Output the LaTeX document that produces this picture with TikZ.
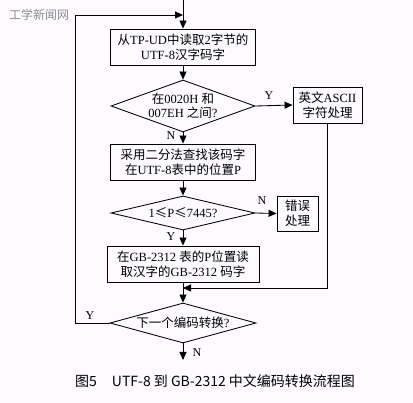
\documentclass[tikz,border=0pt]{standalone}
\usepackage{fontspec}
\setmainfont{Liberation Serif}
\newfontfamily\cjk{Noto Sans CJK SC}
\usetikzlibrary{shapes.geometric,arrows.meta}
\newcommand\zhc[1]{{\cjk #1}}
\definecolor{bg}{RGB}{253,251,255}
\begin{document}
\begin{tikzpicture}[x=1pt,y=-1pt,
  every node/.style={inner sep=0pt},
  txt/.style={font=\fontsize{12.5}{15}\selectfont, align=center},
  box/.style={draw, line width=0.85pt, txt},
  dia/.style={draw, line width=0.85pt, diamond, inner sep=0pt},
  lbl/.style={font=\fontsize{12}{14}\selectfont},
  arr/.style={line width=0.85pt, -{Triangle[length=8pt,width=7pt]}},
  ln/.style={line width=0.85pt}]
\useasboundingbox[fill=bg] (0,0) rectangle (413,403);
\node[font=\cjk\fontsize{12}{14}\selectfont, text=black!45, anchor=west] (wm) at (9,15) {工学新闻网};

\node[box, minimum width=145pt, minimum height=36pt] (b1) at (183,47)
  {\zhc{从}TP-UD\zhc{中读取}2\zhc{字节的}\\UTF-8\zhc{汉字码字}};
\node[dia, minimum width=144pt, minimum height=52pt] (d1) at (183,106) {};
\node[txt, font=\fontsize{12.5}{13.5}\selectfont] (t1) at (d1) {\zhc{在}0020H \zhc{和}\\007EH \zhc{之间}?};
\node[box, minimum width=69pt, minimum height=36pt] (ascii) at (327.5,105)
  {\zhc{英文}ASCII\\\zhc{字符处理}};
\node[box, minimum width=145pt, minimum height=36pt] (b2) at (183,162)
  {\zhc{采用二分法查找该码字}\\\zhc{在}UTF-8\zhc{表中的位置}P};
\node[dia, minimum width=144pt, minimum height=34pt] (d2) at (183,213) {};
\node[txt] (t2) at (d2) {1\zhc{≤}P\zhc{≤}7445?};
\node[box, minimum width=41pt, minimum height=35pt] (err) at (297.5,213.5)
  {\zhc{错误}\\\zhc{处理}};
\node[box, minimum width=152pt, minimum height=36pt] (b3) at (183,264)
  {\zhc{在}GB-2312 \zhc{表的}P\zhc{位置读}\\\zhc{取汉字的}GB-2312 \zhc{码字}};
\node[dia, minimum width=146pt, minimum height=40pt] (d3) at (183,323) {};
\node[txt] (t3) at (d3) {\zhc{下一个编码转换}?};

\coordinate (top) at (183,0);
\coordinate (j) at (183,15);
\coordinate (lt) at (75,15);
\coordinate (lb) at (75,323);
\coordinate (m) at (183,288);
\coordinate (end) at (183,360);

\draw[arr] (top) -- (b1.north);
\draw[arr] (d3.west) -- (lb) -- (lt) -- (j);
\draw[arr] (b1.south) -- (d1.north);
\draw[arr] (d1.south) -- (b2.north);
\draw[arr] (d1.east) -- (ascii.west);
\draw[arr] (b2.south) -- (d2.north);
\draw[arr] (d2.east) -- (err.west);
\draw[arr] (d2.south) -- (b3.north);
\draw[arr] (ascii.south) -- (ascii.south |- m) -- (m);
\draw[arr] (b3.south) -- (d3.north);
\draw[arr] (d3.south) -- (end);

\node[lbl] (ly1) at (269,96) {Y};
\node[lbl] (ln1) at (171,136) {N};
\node[lbl] (ln2) at (262,201) {N};
\node[lbl] (ly2) at (171,237) {Y};
\node[lbl] (ly3) at (90,316) {Y};
\node[lbl] (ln3) at (197,353) {N};

\node[font=\cjk\fontsize{14}{16}\selectfont, anchor=west] (cap) at (75,381)
  {图5\hspace{15pt}UTF-8 到 GB-2312 中文编码转换流程图};
\end{tikzpicture}
\end{document}
